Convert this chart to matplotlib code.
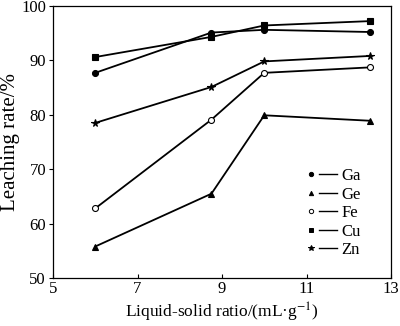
import matplotlib
matplotlib.use("Agg")
import matplotlib.pyplot as plt
from matplotlib.lines import Line2D
from matplotlib.legend_handler import HandlerTuple

plt.rcParams['font.family'] = ['Liberation Serif', 'DejaVu Serif']
plt.rcParams['mathtext.fontset'] = 'stix'

# liquid-solid ratio, mL/g
ratio = [6, 8.75, 10, 12.5]

# leaching rate, %
ga = [87.7, 95.1, 95.6, 95.2]
ge = [55.8, 65.5, 79.9, 78.9]
fe = [62.8, 79.1, 87.7, 88.7]
cu = [90.6, 94.3, 96.4, 97.2]
zn = [78.5, 85.1, 89.8, 90.8]

series = [
    ("Ga", ga, dict(marker='o', mfc='black')),
    ("Ge", ge, dict(marker='^', mfc='black')),
    ("Fe", fe, dict(marker='o', mfc='white')),
    ("Cu", cu, dict(marker='s', mfc='black')),
    ("Zn", zn, dict(marker='*', mfc='black')),
]

fig = plt.figure(figsize=(4.0, 3.26), dpi=100)
ax = fig.add_axes([0.1325, 0.147, 0.845, 0.835])

handles, labels = [], []
for name, vals, style in series:
    ms = 5.5 if style['marker'] == '*' else 4.3
    ax.plot(ratio, vals, color='black', lw=1.3, mec='black', mew=0.8,
            ms=ms, **style)
    mk = Line2D([], [], ls='none', color='black', mec='black', mew=0.7,
                ms=ms * 0.72, **style)
    ln = Line2D([], [], color='black', lw=1.0)
    handles.append((mk, ln))
    labels.append(name)

ax.set_xlim(5, 13)
ax.set_ylim(50, 100)
ax.set_xticks([5, 7, 9, 11, 13])
ax.set_yticks([50, 60, 70, 80, 90, 100])
ax.tick_params(axis='x', direction='in', length=3, pad=2, labelsize=12)
ax.tick_params(axis='y', direction='out', length=3, pad=2, labelsize=12)
for s in ax.spines.values():
    s.set_linewidth(0.9)

ax.set_xlabel("Liquid-solid ratio/(mL\u00b7g$^{-1}$)", fontsize=12.5, labelpad=3)
ax.set_ylabel("Leaching rate/%", fontsize=15, labelpad=1)

ax.legend(handles, labels, handler_map={tuple: HandlerTuple(ndivide=None, pad=-0.1)},
          loc='upper left', bbox_to_anchor=(0.737, 0.404), frameon=False,
          fontsize=12, handlelength=2.1, handletextpad=0.24, labelspacing=0.15,
          borderaxespad=0, borderpad=0)

fig.savefig("out.png", dpi=100)
